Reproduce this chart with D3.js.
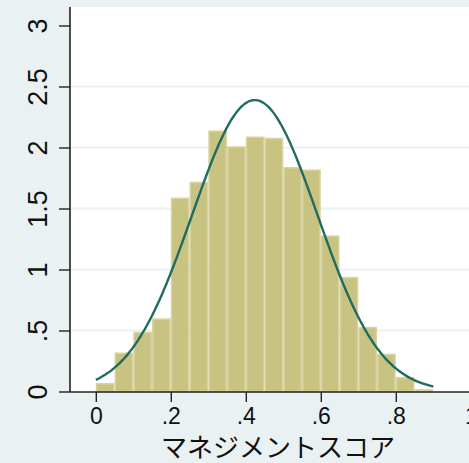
<!DOCTYPE html>
<html>
<head>
<meta charset="utf-8">
<script src="https://cdn.jsdelivr.net/npm/d3@7"></script>
<style>
  html, body { margin: 0; padding: 0; background: #eaf1f3; }
  svg { display: block; }
</style>
</head>
<body>
<svg id="chart"></svg>
<script>
/*
 * Histogram data (density, bin width .05)
 * ========================================================================== */

const binStarts = [0, .05, .1, .15, .2, .25, .3, .35, .4, .45, .5, .55, .6, .65, .7, .75, .8, .85];
const densities = [0.07, 0.32, 0.49, 0.60, 1.59, 1.72, 2.14, 2.01, 2.09, 2.08, 1.84, 1.82, 1.28, 0.94, 0.53, 0.31, 0.12, 0.02];
const binWidth = 0.05;

// normal overlay
const normMean = 0.424,
      normSd = 0.167,
      normRange = [0, 0.9];

const xTicks = [0, .2, .4, .6, .8, 1];
const xTickLabels = ['0', '.2', '.4', '.6', '.8', '1'];
const yTicks = [0, .5, 1, 1.5, 2, 2.5, 3];
const yTickLabels = ['0', '.5', '1', '1.5', '2', '2.5', '3'];
const xTitle = 'マネジメントスコア';

const WIDTH = 469,
      HEIGHT = 463;

let svg = d3.select('#chart')
            .attr('width', WIDTH)
            .attr('height', HEIGHT);

// plot region
const plotL = 70, plotT = 7, plotR = 486, plotB = 392;

let x = d3.scaleLinear().domain([0, 1]).range([95.8, 470.8]);
let y = d3.scaleLinear().domain([0, 3]).range([391.5, 25.5]);

svg.append('rect')
    .attr('x', plotL).attr('y', plotT)
    .attr('width', plotR - plotL).attr('height', plotB - plotT)
    .attr('fill', '#ffffff');

// gridlines (not at the ends)
svg.append('g').selectAll('line')
    .data(yTicks.filter(d => d > 0 && d < 3))
  .enter().append('line')
    .attr('x1', plotL).attr('x2', plotR)
    .attr('y1', d => y(d)).attr('y2', d => y(d))
    .attr('stroke', '#eaf2f4')
    .attr('stroke-width', 2);

// bars
svg.append('g').selectAll('rect')
    .data(binStarts.map((s, i) => ({ s: s, d: densities[i] })))
  .enter().append('rect')
    .attr('x', d => x(d.s) + 0.75)
    .attr('width', d => x(d.s + binWidth) - x(d.s) - 1.5)
    .attr('y', d => y(d.d) + 0.75)
    .attr('height', d => Math.max(0, y(0) - y(d.d) - 0.75))
    .attr('fill', '#c9c381')
    .attr('stroke', '#d8d3a0')
    .attr('stroke-width', 1.5);

// normal density curve
let curvePts = d3.range(0, 201).map(i => {
  let v = normRange[0] + (normRange[1] - normRange[0]) * i / 200;
  let dens = Math.exp(-Math.pow(v - normMean, 2) / (2 * normSd * normSd)) / (normSd * Math.sqrt(2 * Math.PI));
  return [v, dens];
});

svg.append('path')
    .datum(curvePts)
    .attr('fill', 'none')
    .attr('stroke', '#216b63')
    .attr('stroke-width', 2.4)
    .attr('d', d3.line().x(d => x(d[0])).y(d => y(d[1])).curve(d3.curveBasis));

// axes
let xAxis = svg.append('g')
    .attr('transform', 'translate(0,' + plotB + ')')
    .call(d3.axisBottom(x).tickValues(xTicks).tickFormat((d, i) => xTickLabels[i]).tickSize(10).tickPadding(6));
xAxis.select('.domain').attr('d', 'M' + plotL + ',0H' + plotR).attr('stroke', '#222').attr('stroke-width', 1.6);
xAxis.selectAll('.tick line').attr('stroke', '#222').attr('stroke-width', 1.4);
xAxis.selectAll('.tick text')
    .attr('font-family', '"Liberation Sans", Arial, sans-serif')
    .attr('font-size', 23)
    .attr('fill', '#111');

let yAxis = svg.append('g')
    .attr('transform', 'translate(' + plotL + ',0)')
    .call(d3.axisLeft(y).tickValues(yTicks).tickFormat((d, i) => yTickLabels[i]).tickSize(11));
yAxis.select('.domain').attr('d', 'M0,' + plotT + 'V' + plotB).attr('stroke', '#222').attr('stroke-width', 1.6);
yAxis.selectAll('.tick line').attr('stroke', '#222').attr('stroke-width', 1.4);
yAxis.selectAll('.tick text')
    .attr('x', null).attr('dy', null)
    .attr('transform', 'translate(-23,0) rotate(-90)')
    .attr('text-anchor', 'middle')
    .attr('font-family', '"Liberation Sans", Arial, sans-serif')
    .attr('font-size', 27)
    .attr('fill', '#111');

// axis title
svg.append('text')
    .attr('x', (plotL + plotR) / 2)
    .attr('y', 457)
    .attr('text-anchor', 'middle')
    .attr('font-family', '"Noto Sans CJK JP", sans-serif')
    .attr('font-size', 26)
    .attr('fill', '#111')
    .text(xTitle);
</script>
</body>
</html>
